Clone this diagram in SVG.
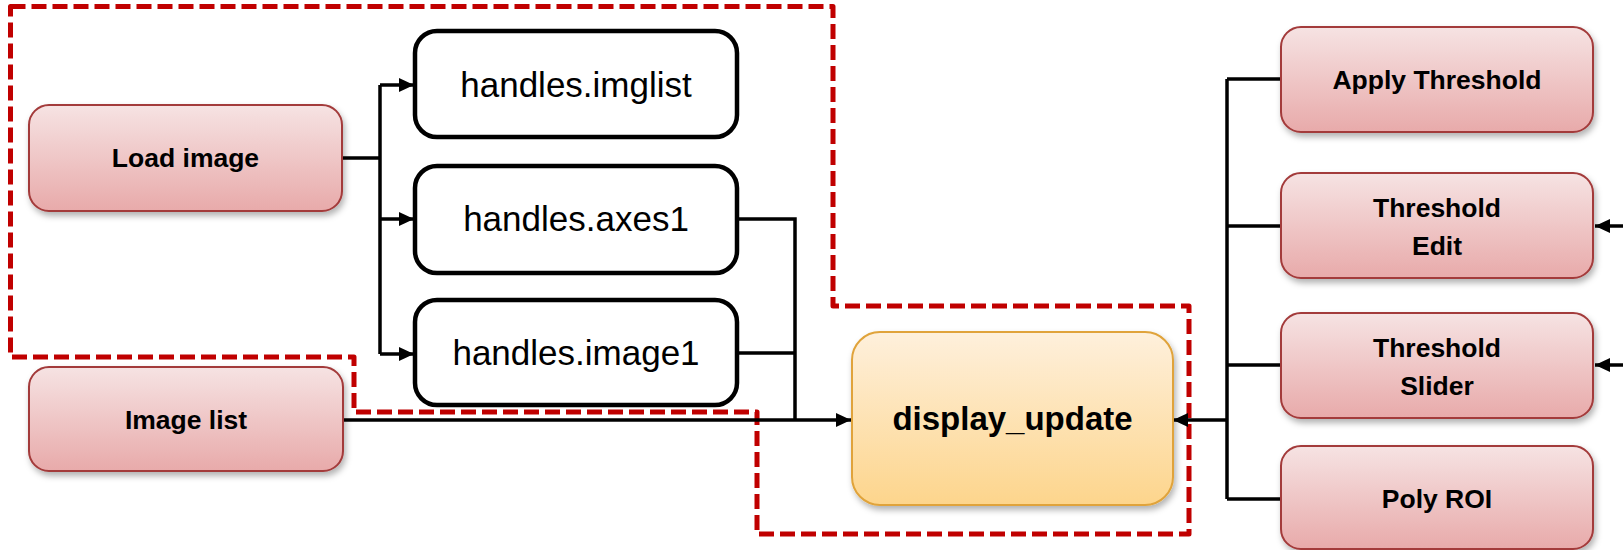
<svg xmlns="http://www.w3.org/2000/svg" width="1623" height="550" viewBox="0 0 1623 550">
<style>
.red rect{fill:url(#gRed);stroke:#A33A3A;stroke-width:2;filter:url(#sh)}
.h rect{fill:#fff;stroke:#000;stroke-width:4.5}
.lb{font-family:"Liberation Sans",Arial,sans-serif;font-weight:bold;font-size:26.5px;fill:#000;text-anchor:middle}
.lr{font-family:"Liberation Sans",Arial,sans-serif;font-size:35px;fill:#000;text-anchor:middle}
.c{fill:none;stroke:#000;stroke-width:3.5}
</style>
<defs>
<linearGradient id="gRed" x1="0" y1="0" x2="0" y2="1">
<stop offset="0" stop-color="#F6E3E3"/><stop offset="1" stop-color="#E8AAAA"/>
</linearGradient>
<linearGradient id="gOr" x1="0" y1="0" x2="0" y2="1">
<stop offset="0" stop-color="#FEF0DC"/><stop offset="1" stop-color="#FDD58C"/>
</linearGradient>
<filter id="sh" x="-10%" y="-10%" width="130%" height="140%">
<feDropShadow dx="2" dy="4" stdDeviation="3" flood-color="#000" flood-opacity="0.3"/>
</filter>
<marker id="ah" markerWidth="15" markerHeight="14" refX="15" refY="7" orient="auto" markerUnits="userSpaceOnUse">
<path d="M0,0 L15,7 L0,14 Z" fill="#000"/>
</marker>
</defs>
<g id="region">
<path d="M10.5,6.5 H833 V306 H1189 V534 H757 V412 H354 V357 H10.5 Z" fill="none" stroke="#C00000" stroke-width="5" stroke-dasharray="15 6" stroke-linejoin="round"/>
</g>
<g id="connectors">
<path class="c" d="M342,158 H380"/>
<path class="c" d="M380,85 V354"/>
<path class="c" d="M380,85 H414" marker-end="url(#ah)"/>
<path class="c" d="M380,219 H414" marker-end="url(#ah)"/>
<path class="c" d="M380,354 H414" marker-end="url(#ah)"/>
<path class="c" d="M737,219 H795 V420"/>
<path class="c" d="M737,353 H795"/>
<path class="c" d="M343,420 H851" marker-end="url(#ah)"/>
<path class="c" d="M1227,79 V499"/>
<path class="c" d="M1227,79 H1281"/>
<path class="c" d="M1227,226 H1281"/>
<path class="c" d="M1227,365 H1281"/>
<path class="c" d="M1227,499 H1281"/>
<path class="c" d="M1227,420 H1173" marker-end="url(#ah)"/>
<path class="c" d="M1623,226 H1595" marker-end="url(#ah)"/>
<path class="c" d="M1623,365 H1595" marker-end="url(#ah)"/>
</g>
<g id="load_image" class="red"><rect x="29" y="105" width="313" height="106" rx="20"/><text class="lb" x="185.5" y="167">Load image</text></g>
<g id="image_list" class="red"><rect x="29" y="367" width="314" height="104" rx="20"/><text class="lb" x="186" y="429">Image list</text></g>
<g id="handles_imglist" class="h"><rect x="415" y="31" width="322" height="106" rx="22"/><text class="lr" x="576" y="97">handles.imglist</text></g>
<g id="handles_axes1" class="h"><rect x="415" y="166" width="322" height="107" rx="22"/><text class="lr" x="576" y="231">handles.axes1</text></g>
<g id="handles_image1" class="h"><rect x="415" y="300" width="322" height="105" rx="22"/><text class="lr" x="576" y="365">handles.image1</text></g>
<g id="display_update"><rect x="852" y="332" width="321" height="173" rx="28" fill="url(#gOr)" stroke="#E0A33A" stroke-width="2" filter="url(#sh)"/><text class="lb" x="1012.5" y="430" style="font-size:33px">display_update</text></g>
<g id="apply_threshold" class="red"><rect x="1281" y="27" width="312" height="105" rx="20"/><text class="lb" x="1437" y="89">Apply Threshold</text></g>
<g id="threshold_edit" class="red"><rect x="1281" y="173" width="312" height="105" rx="20"/><text class="lb" x="1437" y="217">Threshold</text><text class="lb" x="1437" y="255">Edit</text></g>
<g id="threshold_slider" class="red"><rect x="1281" y="313" width="312" height="105" rx="20"/><text class="lb" x="1437" y="357">Threshold</text><text class="lb" x="1437" y="395">Slider</text></g>
<g id="poly_roi" class="red"><rect x="1281" y="446" width="312" height="103" rx="20"/><text class="lb" x="1437" y="508">Poly ROI</text></g>
</svg>
